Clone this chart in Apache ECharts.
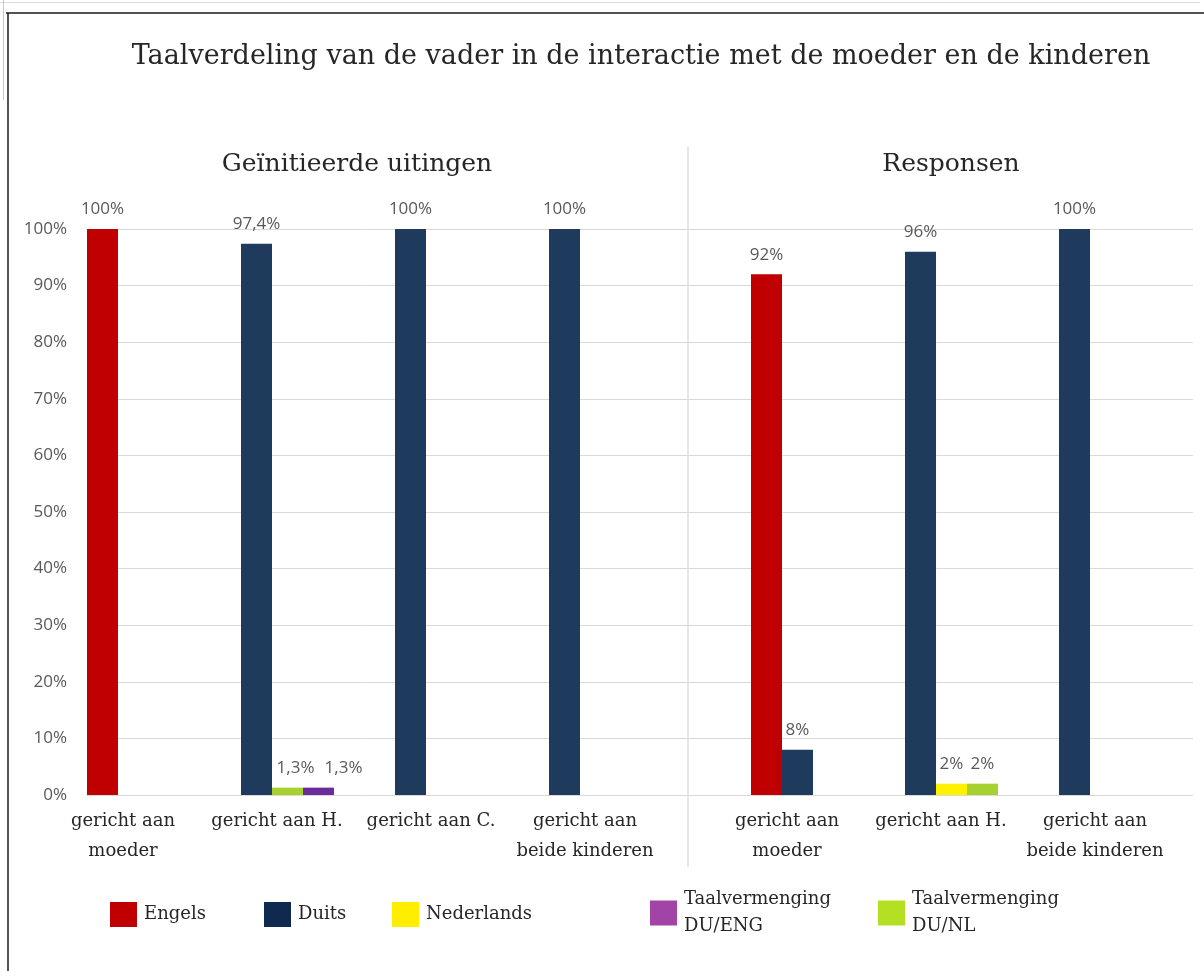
<!DOCTYPE html>
<html>
<head>
<meta charset="utf-8">
<script src="https://cdn.jsdelivr.net/npm/echarts@6/dist/echarts.min.js"></script>
<style>
  html, body { margin: 0; padding: 0; background: #ffffff; }
  #chart { width: 1204px; height: 971px; }
</style>
</head>
<body>
<div id="chart"></div>
<script>
// Category labels of the two panels
const initiatedCategories = ['gericht aan\nmoeder', 'gericht aan H.', 'gericht aan C.', 'gericht aan\nbeide kinderen'];
const responseCategories  = ['gericht aan\nmoeder', 'gericht aan H.', 'gericht aan\nbeide kinderen'];

// Share per language (%), four initiated categories followed by three response categories
const engels     = [100, 0,    0,   0,   92, 0,  0];
const duits      = [0,   97.4, 100, 100, 8,  96, 100];
const nederlands = [0,   0,    0,   0,   0,  2,  0];
const mixDuEng   = [0,   1.3,  0,   0,   0,  0,  0];
const mixDuNl    = [0,   1.3,  0,   0,   0,  2,  0];

// Value axis tick labels
const yTickLabels = ['0%', '10%', '20%', '30%', '40%', '50%', '60%', '70%', '80%', '90%', '100%'];

// Languages in legend order, with their bar and swatch colours
const languages = [
  { name: 'Engels',                 values: engels,     bar: '#C00000', swatch: '#C00000' },
  { name: 'Duits',                  values: duits,      bar: '#1E3B5E', swatch: '#0F2A4E' },
  { name: 'Nederlands',             values: nederlands, bar: '#FFF200', swatch: '#FFEE00' },
  { name: 'Taalvermenging\nDU/ENG', values: mixDuEng,   bar: '#6A2C9C', swatch: '#A243A6' },
  { name: 'Taalvermenging\nDU/NL',  values: mixDuNl,    bar: '#A6D12E', swatch: '#B4E024' }
];
// Order of the bars inside a cluster
const barOrder = [languages[0], languages[1], languages[2], languages[4], languages[3]];

const SERIF = '"DejaVu Serif", serif';
const SANS = '"Open Sans", "Liberation Sans", sans-serif';
const TEXT = '#262626';
const GREY = '#595959';
const GRID_LINE = '#D9D9D9';

const fmt = v => String(v).replace('.', ',') + '%';

// Nudge for labels of thin neighbouring bars that would otherwise overlap
const labelShift = { '1-1': [8, 0], '1-2': [25, 0] };

// Each cluster packs its non-zero bars side by side, so bars are grouped by position
function clusterSeries(start, count, axisIndex) {
  const out = [];
  for (let slot = 0; slot < 3; slot++) {
    const data = [];
    for (let c = 0; c < count; c++) {
      const idx = start + c;
      const present = barOrder.filter(l => l.values[idx] > 0);
      const lang = present[slot];
      if (!lang) { data.push('-'); continue; }
      const item = { value: lang.values[idx], itemStyle: { color: lang.bar } };
      const shift = labelShift[idx + '-' + slot];
      if (shift) item.label = { offset: shift };
      data.push(item);
    }
    out.push({
      type: 'bar',
      name: 'positie ' + (slot + 1) + ' / ' + axisIndex,
      xAxisIndex: axisIndex,
      yAxisIndex: axisIndex,
      barWidth: 31,
      barGap: '0%',
      data: data,
      label: {
        show: true,
        position: 'top',
        distance: 11,
        formatter: p => fmt(p.value),
        fontFamily: SANS,
        fontSize: 17,
        color: GREY
      }
    });
  }
  return out;
}

// Empty series carrying the legend entries
const legendSeries = languages.map(l => ({
  type: 'bar',
  name: l.name,
  xAxisIndex: 0,
  yAxisIndex: 0,
  data: [],
  itemStyle: { color: l.swatch }
}));

const legendPlacement = [
  { left: 105, top: 896 },
  { left: 259, top: 896 },
  { left: 387, top: 896 },
  { left: 645, top: 881 },
  { left: 873, top: 881 }
];

const categoryAxisStyle = {
  axisLine: { show: false },
  axisTick: { show: false },
  axisLabel: {
    interval: 0,
    fontFamily: SERIF,
    fontSize: 18,
    color: TEXT,
    lineHeight: 30,
    margin: 11,
    padding: [0, 21, 0, 0]
  }
};

const hiddenValueAxis = { type: 'value', min: 0, max: 100, interval: 10, show: false };

const option = {
  animation: false,
  backgroundColor: '#ffffff',
  title: [
    {
      text: 'Taalverdeling van de vader in de interactie met de moeder en de kinderen',
      left: 636, top: 38, textAlign: 'center',
      textStyle: { fontFamily: SERIF, fontSize: 27, fontWeight: 'normal', color: TEXT }
    },
    {
      text: 'Geïnitieerde uitingen',
      left: 352, top: 147, textAlign: 'center',
      textStyle: { fontFamily: SERIF, fontSize: 25, fontWeight: 'normal', color: TEXT }
    },
    {
      text: 'Responsen',
      left: 946, top: 147, textAlign: 'center',
      textStyle: { fontFamily: SERIF, fontSize: 25, fontWeight: 'normal', color: TEXT }
    }
  ],
  legend: languages.map((l, i) => ({
    data: [{ name: l.name, itemStyle: { color: l.swatch } }],
    left: legendPlacement[i].left,
    top: legendPlacement[i].top,
    itemWidth: 27,
    itemHeight: 25,
    selectedMode: false,
    icon: 'rect',
    textStyle: { fontFamily: SERIF, fontSize: 18, color: TEXT, lineHeight: 27, padding: [0, 0, 0, 2] }
  })),
  grid: [
    { left: 87, right: 11, top: 229, bottom: 176 },
    { left: 56.5, width: 616, top: 229, bottom: 176 },
    { left: 720.5, width: 462, top: 229, bottom: 176 }
  ],
  xAxis: [
    { type: 'category', gridIndex: 0, data: [''], show: false },
    Object.assign({ type: 'category', gridIndex: 1, data: initiatedCategories }, categoryAxisStyle),
    Object.assign({ type: 'category', gridIndex: 2, data: responseCategories }, categoryAxisStyle)
  ],
  yAxis: [
    {
      type: 'value', gridIndex: 0, min: 0, max: 100, interval: 10,
      axisLine: { show: false },
      axisTick: { show: false },
      splitLine: { lineStyle: { color: GRID_LINE, width: 1 } },
      axisLabel: {
        formatter: v => yTickLabels[Math.round(v / 10)],
        fontFamily: SANS, fontSize: 17, color: GREY, margin: 20
      }
    },
    Object.assign({ gridIndex: 1 }, hiddenValueAxis),
    Object.assign({ gridIndex: 2 }, hiddenValueAxis)
  ],
  graphic: [
    // panel divider
    { type: 'line', silent: true, shape: { x1: 688, y1: 147, x2: 688, y2: 867 }, style: { stroke: '#CFCFCF', lineWidth: 1 } },
    // outer frame
    { type: 'line', silent: true, shape: { x1: 0, y1: 2.5, x2: 1200, y2: 2.5 }, style: { stroke: '#DADADA', lineWidth: 1 } },
    { type: 'line', silent: true, shape: { x1: 3.5, y1: 0, x2: 3.5, y2: 100 }, style: { stroke: '#C8C8C8', lineWidth: 1 } },
    { type: 'line', silent: true, shape: { x1: 6, y1: 13, x2: 1204, y2: 13 }, style: { stroke: '#1A1A1A', lineWidth: 1.5 } },
    { type: 'line', silent: true, shape: { x1: 8, y1: 13, x2: 8, y2: 971 }, style: { stroke: '#1A1A1A', lineWidth: 1.5 } }
  ],
  series: []
    .concat(legendSeries)
    .concat(clusterSeries(0, initiatedCategories.length, 1))
    .concat(clusterSeries(initiatedCategories.length, responseCategories.length, 2))
};

const chart = echarts.init(document.getElementById('chart'), null, { renderer: 'canvas' });
chart.setOption(option);
</script>
</body>
</html>
